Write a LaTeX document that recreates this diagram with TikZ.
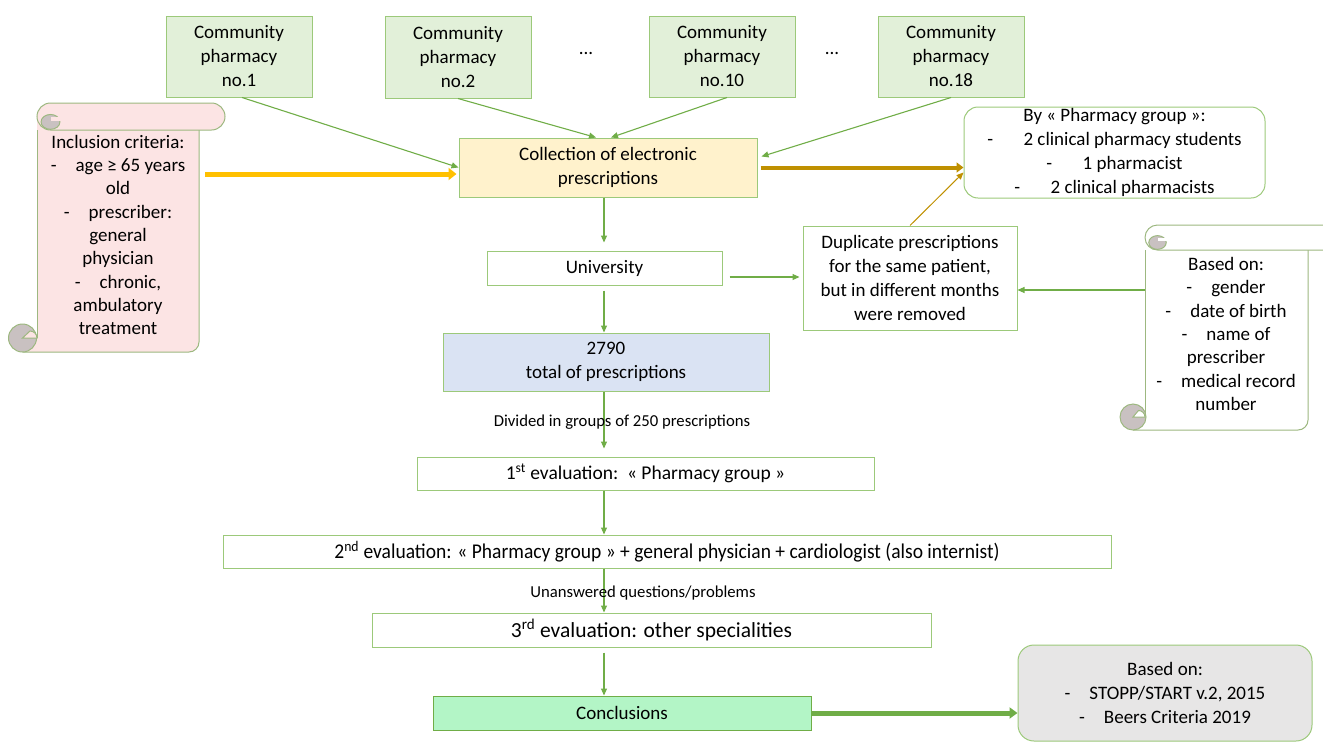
\documentclass[tikz,border=0pt]{standalone}
\usepackage{fontspec}
\setmainfont{Carlito}
\usetikzlibrary{arrows.meta}
\definecolor{gborder}{HTML}{9CC97A}
\definecolor{garrow}{HTML}{70AD47}
\definecolor{pharmfill}{HTML}{E2F0D9}
\definecolor{collfill}{HTML}{FFF2CC}
\definecolor{bluefill}{HTML}{DAE3F3}
\definecolor{conclfill}{HTML}{B3F5C6}
\definecolor{grayfill}{HTML}{E7E6E6}
\definecolor{pinkfill}{HTML}{FCE4E4}
\definecolor{curlgray}{HTML}{C9C1C1}
\definecolor{scrollline}{HTML}{9DB880}
\definecolor{yel}{HTML}{FFC000}
\definecolor{gold}{HTML}{BF9000}
\newcommand\bx[7]{\node[box,#6,minimum width={#4pt-#2pt},minimum height={#5pt-#3pt}] (#1) at ({(#2+#4)/2},{(#3+#5)/2}) {#7};}
% scroll: BL BR RR T B r curlcx curlr fill
\newcommand\myscroll[9]{%
  \fill[#9] (#7,#5) -- (#2-10,#5) to[out=0,in=-90] (#2,#5-10) -- (#2,#4+#6) -- (#1,#4+#6) -- (#1,#5-#8) -- (#7,#5-#8) -- cycle;
  \draw[scrollline,line width=1pt] (#7,#5) -- (#2-10,#5) to[out=0,in=-90] (#2,#5-10) -- (#2,#4+2*#6);
  \draw[scrollline,line width=1pt] (#1,#4+2*#6) -- (#1,#5-#8);
  \draw[scrollline,line width=1pt,fill=curlgray] (#7,#5-#8) circle (#8);
  \draw[scrollline,line width=1pt,fill=#9] (#7,#5-#8) -- (#1,#5-#8) arc[start angle=0,end angle=-90,radius=#8/2] -- cycle;
  \draw[scrollline,line width=1pt,fill=#9,rounded corners=#6pt] (#1,#4) rectangle (#3,#4+2*#6);
  \draw[scrollline,line width=1pt,fill=curlgray] (#1+#6,#4+1.4*#6) ellipse ({0.7*#6} and {0.55*#6});
  \fill[#9] (#1+#6,#4+#6) -- (#1+1.8*#6,#4+#6) -- (#1+1.8*#6,#4+1.3*#6) -- (#1+#6,#4+1.3*#6) -- cycle;
}
\begin{document}
\begin{tikzpicture}[x=1pt,y=-1pt,
  box/.style={draw=gborder,line width=1pt,inner sep=0pt,align=center,font=\fontsize{19}{24}\selectfont},
  conn/.style={garrow,line width=1.1pt,-{Triangle[length=7pt,width=6pt]}},
  lbl/.style={font=\fontsize{16.7}{18}\selectfont,inner sep=0pt}]
\useasboundingbox (0,0) rectangle (1323,742);
% pharmacies
\bx{ph1}{166}{16}{312}{97}{fill=pharmfill}{Community\\pharmacy\\no.1}
\bx{ph2}{385}{16}{531}{98}{fill=pharmfill}{Community\\pharmacy\\no.2}
\bx{ph10}{649}{16}{795}{97}{fill=pharmfill}{Community\\pharmacy\\no.10}
\bx{ph18}{878}{16}{1024}{97}{fill=pharmfill}{Community\\pharmacy\\no.18}
\node[font=\fontsize{19}{24}\selectfont] (dots1) at (586,53) {...};
\node[font=\fontsize{19}{24}\selectfont] (dots2) at (832,53) {...};
% main chain
\bx{coll}{459}{138}{757}{197}{fill=collfill}{Collection of electronic\\prescriptions}
\bx{uni}{487}{251}{722}{285}{}{University}
\bx{tot}{443}{333}{769}{391}{fill=bluefill}{2790\\total of prescriptions}
\bx{ev1}{417}{457}{874}{490}{font=\fontsize{19.5}{24}\selectfont}{1\textsuperscript{st} evaluation:\ \ « Pharmacy group »}
\bx{ev2}{223}{535}{1111}{568}{font=\fontsize{21}{24}\selectfont}{\scalebox{0.93}[1]{2\textsuperscript{nd} evaluation: « Pharmacy group » + general physician + cardiologist (also internist)}}
\bx{ev3}{372}{613}{931}{647}{font=\fontsize{21.5}{24}\selectfont}{3\textsuperscript{rd} evaluation: other specialities}
\bx{concl}{433}{696}{811}{730}{fill=conclfill,draw=garrow}{Conclusions}
\bx{dup}{803}{226}{1017}{330}{}{Duplicate prescriptions\\for the same patient,\\but in different months\\were removed}
\bx{by}{964}{107}{1265}{198}{rounded corners=14pt}{By « Pharmacy group »:\\-\hspace{1.6em}2 clinical pharmacy students\\-\hspace{1.6em}1 pharmacist\\-\hspace{1.6em}2 clinical pharmacists}
\bx{crit}{1018}{645}{1312}{741}{fill=grayfill,rounded corners=16pt}{Based on:\\-\quad STOPP/START v.2, 2015\\-\quad Beers Criteria 2019}
% scrolls
\myscroll{37}{199}{225}{103}{352}{13.5}{22.5}{14}{pinkfill}
\node[align=center,inner sep=0pt,font=\fontsize{19}{23.3}\selectfont] (incl) at (118,235) {Inclusion criteria:\\-\quad age ≥ 65 years\\old\\-\quad prescriber:\\general\\physician\\-\quad chronic,\\ambulatory\\treatment};
\myscroll{1145}{1308}{1345}{225}{430}{12.5}{1133}{13}{white}
\node[align=center,inner sep=0pt,font=\fontsize{19}{23.3}\selectfont] (based) at (1226,334) {Based on:\\-\quad gender\\-\quad date of birth\\-\quad name of\\prescriber\\-\quad medical record\\number};
\coordinate (lsr) at (205,174);
\coordinate (rsl) at (1145,290);
\coordinate (ax) at (604,0);
% connectors from pharmacies
\draw[conn] ([xshift=3pt]ph1.south) -- (coll.west);
\draw[conn] (ph2.south) -- ([xshift=-12pt]coll.north);
\draw[conn] ([xshift=5pt]ph10.south) -- ([xshift=3pt]coll.north);
\draw[conn] (ph18.south) -- ([xshift=4pt,yshift=11pt]coll.east);
% side arrows
\draw[yel,line width=5pt,-{Triangle[length=8pt,width=12pt]}] (lsr) -- ([yshift=-6.5pt,xshift=-2pt]coll.west);
\draw[gold,line width=4pt,-{Triangle[length=7pt,width=10pt]}] ([xshift=3pt]coll.east) -- (coll.east -| by.west);
\draw[gold,line width=1pt,-{Triangle[length=7pt,width=6pt]}] (dup.north) -- ([yshift=-20pt]by.west);
\draw[conn] ([xshift=7pt,yshift=-9pt]uni.east) -- ([xshift=-3pt,yshift=-9pt]uni.east -| dup.west);
\draw[conn] (rsl) -- (rsl -| dup.east);
\draw[garrow,line width=5pt,-{Triangle[length=8pt,width=11pt]}] (concl.east) -- (concl.east -| crit.west);
% vertical chain
\draw[conn,shorten >=8pt] (coll.south -| ax) -- (uni.north -| ax);
\draw[conn,shorten <=5pt] (uni.south -| ax) -- (tot.north -| ax);
\draw[conn,shorten >=8pt] (tot.south -| ax) -- (ev1.north -| ax);
\node[lbl] (div) at (622,422) {Divided in groups of 250 prescriptions};
\draw[conn] (ev1.south -| ax) -- (ev2.north -| ax);
\draw[conn] (ev2.south -| ax) -- (ev3.north -| ax);
\node[lbl] (unans) at (643,593) {Unanswered questions/problems};
\draw[conn,shorten <=5pt] (ev3.south -| ax) -- (concl.north -| ax);
\end{tikzpicture}
\end{document}
